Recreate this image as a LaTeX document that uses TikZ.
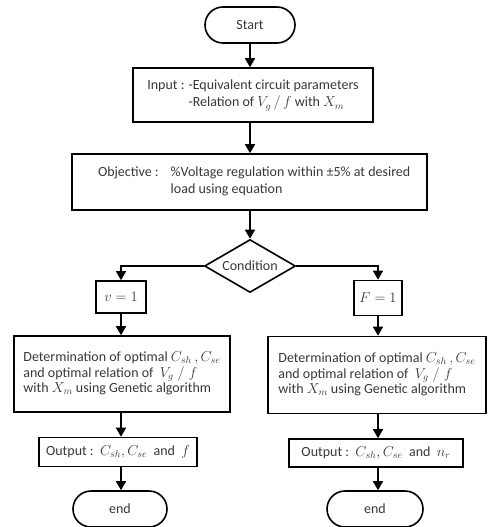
\documentclass[tikz,border=0pt]{standalone}
\usepackage{fontspec}
\setmainfont{Carlito}
\usetikzlibrary{shapes.geometric,arrows.meta}
\begin{document}
\begin{tikzpicture}[x=1pt,y=-1pt,
  every node/.style={font=\fontsize{14}{17}\selectfont, text=black!78},
  box/.style={draw=black, line width=1.6pt, rectangle, inner sep=0pt, align=center},
  term/.style={draw=black, line width=1.6pt, rectangle, rounded corners=18pt, inner sep=0pt},
  cond/.style={draw=black, line width=1.6pt, diamond, aspect=1.72, inner sep=1pt},
  arr/.style={draw=black, line width=1.6pt, -{Triangle[length=9pt,width=10pt]}}
]
\useasboundingbox (0,0) rectangle (488,527);
\node[term, minimum width=90pt, minimum height=36pt] (start) at (250,25) {Start};
\node[box, minimum width=240pt, minimum height=54pt] (input) at (253,95)
  {\begin{tabular}{@{}l@{\hspace{4pt}}l@{}}Input : & -Equivalent circuit parameters\\
   & -Relation of $V_g\,/\,f$ with $X_m$\end{tabular}};
\node[box, minimum width=355pt, minimum height=56pt] (obj) at (249.5,182)
  {\makebox[335pt][l]{\hspace{16pt}\begin{tabular}{@{}l@{\hspace{12pt}}l@{}}Objective : & \%Voltage regulation within ±5\% at desired\\
   & load using equation\end{tabular}}};
\node[cond, minimum width=91pt, minimum height=53pt] (dia) at (250,266) {Condition};
\node[box, minimum width=50pt, minimum height=32pt] (v1) at (121,297) {$v=1$};
\node[box, minimum width=48pt, minimum height=35pt] (f1) at (378,298) {$F=1$};
\node[box, minimum width=216pt, minimum height=76pt] (detl) at (122,374)
  {\fontsize{14}{15.5}\selectfont\begin{tabular}{@{}l@{}}Determination of optimal $C_{sh}\,,C_{se}$\\
   and optimal relation of \ $V_g\;/\;f$\\ with $X_m$ using Genetic algorithm\end{tabular}};
\node[box, minimum width=218pt, minimum height=77pt] (detr) at (377,375)
  {\fontsize{14}{15.5}\selectfont\begin{tabular}{@{}l@{}}Determination of optimal $C_{sh}\,,C_{se}$\\
   and optimal relation of \ $V_g\;/\;f$\\ with $X_m$ using Genetic algorithm\end{tabular}};
\node[box, minimum width=158pt, minimum height=29pt] (outl) at (118,452)
  {Output :\ \ $C_{sh},C_{se}$\ \ and\ \ $f$};
\node[box, minimum width=174pt, minimum height=28pt] (outr) at (376,453)
  {Output :\ \ $C_{sh},C_{se}$\ \ and\ \ $n_r$};
\node[term, minimum width=94pt, minimum height=36pt] (endl) at (120,509) {end};
\node[term, minimum width=96pt, minimum height=36pt] (endr) at (375,509) {end};
\draw[arr] (start.south -| 250,0) -- (input.north -| 250,0);
\draw[arr] (input.south -| 250,0) -- (obj.north -| 250,0);
\draw[arr] (obj.south -| dia) -- (dia.north);
\draw[arr] (dia.west) -| (v1.north);
\draw[arr] (dia.east) -| (f1.north);
\draw[arr] (v1.south) -- (v1.south |- detl.north);
\draw[arr] (f1.south) -- (f1.south |- detr.north);
\draw[arr] (detl.south -| v1) -- (outl.north -| v1);
\draw[arr] (detr.south -| f1) -- (outr.north -| f1);
\draw[arr] (outl.south -| v1) -- (endl.north -| v1);
\draw[arr] (outr.south -| f1) -- (endr.north -| f1);
\end{tikzpicture}
\end{document}
